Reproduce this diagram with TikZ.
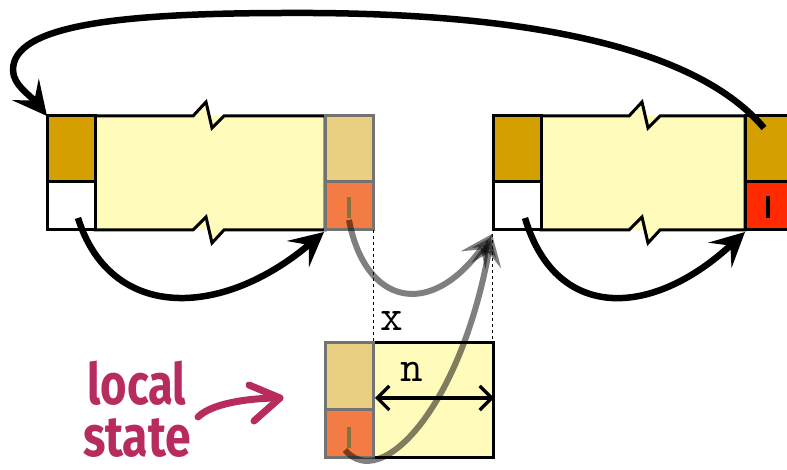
\documentclass[tikz,border=0pt]{standalone}
\usepackage{fontspec}
\newfontfamily\handfont{Fira Sans}
\usetikzlibrary{arrows.meta}
\definecolor{gold}{HTML}{D49F00}
\definecolor{paleyel}{HTML}{FFFBBB}
\definecolor{tan}{HTML}{E8CF82}
\definecolor{orng}{HTML}{F27C43}
\definecolor{redc}{HTML}{FF2A00}
\definecolor{olive}{HTML}{857040}
\definecolor{mag}{HTML}{B72B5E}
\tikzset{
  cell/.style={draw=black, line width=3pt},
  fcell/.style={draw=black!55, line width=3pt},
  bigarrow/.style={line width=6.5pt, -{Stealth[length=34pt,width=34pt,inset=14pt]}},
  grayarrow/.style={line width=6pt, draw=black, draw opacity=0.5, fill opacity=0.5,
     -{Stealth[length=32pt,width=30pt,inset=13pt]}},
  guide/.style={line width=0.9pt, dash pattern=on 3pt off 3pt},
  ttlab/.style={font=\fontsize{44}{44}\selectfont\ttfamily, inner sep=0pt},
  handlab/.style={text=mag, anchor=base, inner sep=0pt, text height=40pt, text depth=0pt},
}
\begin{document}
\begin{tikzpicture}[x=1pt,y=1pt]
\useasboundingbox (0,0) rectangle (787,470);
% ---------- left block
\fill[paleyel] (95,240) -- (193,240) -- (206,253) -- (212,227) -- (224,240) -- (325,240)
   -- (325,354) -- (224,354) -- (212,342) -- (206,368) -- (193,354) -- (95,354) -- cycle;
\fill[paleyel] (95,240) rectangle (325,354);
\draw[cell] (193,354) -- (95,354) -- (95,240) -- (193,240) -- (206,253) -- (212,227) -- (224,240) -- (325,240) -- (325,354) -- (224,354) -- (212,342) -- (206,368) -- cycle;
\draw[cell, fill=gold] (47,288) rectangle (95,354);
\draw[cell, fill=white] (47,240) rectangle (95,288);
\draw[fcell, fill=tan] (325,288) rectangle (373,354);
\draw[fcell, fill=orng] (325,240) rectangle (373,288);
\draw[olive, line width=3.5pt] (349,273) -- (349,252);
% ---------- right block
\fill[paleyel] (541,240) -- (629,240) -- (642,253) -- (648,227) -- (660,240) -- (745,240)
   -- (745,354) -- (660,354) -- (648,342) -- (642,368) -- (629,354) -- (541,354) -- cycle;
\fill[paleyel] (541,240) rectangle (745,354);
\draw[cell] (629,354) -- (541,354) -- (541,240) -- (629,240) -- (642,253) -- (648,227) -- (660,240) -- (745,240) -- (745,354) -- (660,354) -- (648,342) -- (642,368) -- cycle;
\draw[cell, fill=gold] (493,288) rectangle (541,354);
\draw[cell, fill=white] (493,240) rectangle (541,288);
\draw[cell, fill=gold] (745,288) rectangle (800,354);
\draw[cell, fill=redc] (745,240) rectangle (800,288);
\draw[black, line width=4.5pt] (768,274) -- (768,252);
% ---------- local state block
\fill[paleyel] (373,12) rectangle (493,127);
\draw[cell] (373,12) rectangle (493,127);
\draw[fcell, fill=tan] (325,60) rectangle (373,127);
\draw[fcell, fill=orng] (325,12) rectangle (373,60);
\draw[olive, line width=3.5pt] (349,43) -- (349,22);
% ---------- named points
\coordinate (lTailA) at (78,252);
\coordinate (lTip) at (324,238);
\coordinate (rTailA) at (525,252);
\coordinate (rTip) at (745,238);
\coordinate (topTail) at (764,342);
\coordinate (topPeak) at (290,457);
\coordinate (topLeft) at (13,400);
\coordinate (topTip) at (47,354);
\coordinate (g1Tail) at (349,250);
\coordinate (g2Tail) at (345,20);
\coordinate (gTip) at (492,236);
\coordinate (dxL) at (373,240);
\coordinate (dxLb) at (373,127);
\coordinate (dxR) at (492,236);
\coordinate (dxRb) at (492,127);
\coordinate (nL) at (375,72);
\coordinate (nR) at (494,72);
\coordinate (lsTail) at (198,53);
\coordinate (lsTip) at (280,72);
% ---------- dashed guides and labels
\draw[guide] (dxL) -- (dxLb);
\draw[guide] (dxR) -- (dxRb);
\node[ttlab] (xlab) at (392,149) {x};
\node[ttlab] (nlab) at (412,98) {n};
\draw[line width=3.2pt, {Straight Barb[length=12pt,width=24pt]}-{Straight Barb[length=12pt,width=24pt]}] (nL) -- (nR);
% ---------- black arrows
\draw[bigarrow] (lTailA) .. controls (110,150) and (220,150) .. (lTip);
\draw[bigarrow] (rTailA) .. controls (555,150) and (650,150) .. (rTip);
\draw[bigarrow] (topTail) .. controls (690,430) and (500,458) .. (topPeak)
   .. controls (120,457) and (13,445) .. (topLeft)
   .. controls (13,385) and (30,375) .. (topTip);
% ---------- gray arrows
\draw[grayarrow] (g1Tail) .. controls (365,165) and (430,150) .. (gTip);
\draw[grayarrow] (g2Tail) .. controls (380,-22) and (460,60) .. (gTip);
% ---------- local state label
\node[handlab] (lsLocal) at (137,65)
  {\scalebox{0.84}[1.06]{\handfont\bfseries\fontsize{54}{54}\selectfont local}};
\node[handlab] (lsState) at (137,13)
  {\scalebox{0.86}[1.06]{\handfont\bfseries\fontsize{54}{54}\selectfont state}};
\draw[mag, line width=7pt, line cap=round] (lsTail) .. controls (212,67) and (250,72) .. (lsTip);
\draw[mag, line width=7pt, line cap=round, line join=round] (249,85) -- (lsTip) -- (254,49);
\end{tikzpicture}
\end{document}
